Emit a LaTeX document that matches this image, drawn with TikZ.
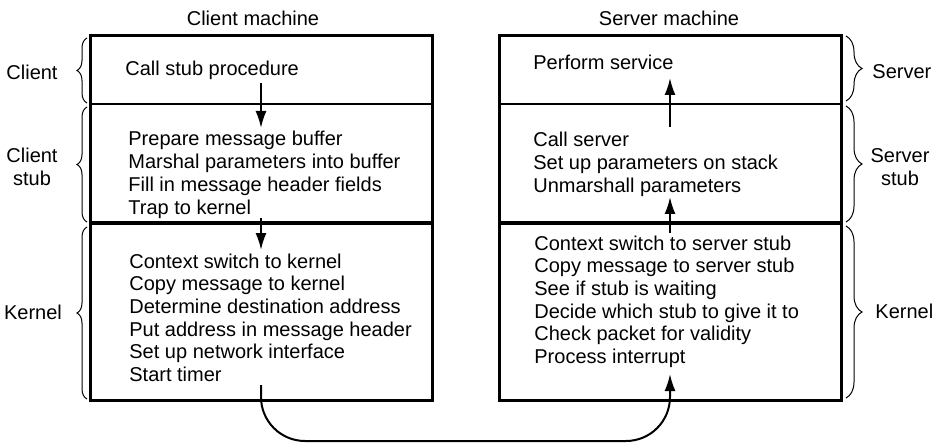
\documentclass[tikz,border=0pt]{standalone}
\usepackage{fontspec}
\setmainfont{Liberation Sans}
\usetikzlibrary{arrows.meta,decorations.pathreplacing}

\begin{document}
\begin{tikzpicture}[inner sep=0mm,x=0.5pt,y=-0.5pt,
    >={Latex[length=8.5pt,width=5.5pt]},
    every node/.style={font=\fontsize{10}{11.4}\selectfont},
    line/.style={anchor=base west},
    side/.style={align=center},
    frame/.style={line width=1.5pt},
    thinsep/.style={line width=0.9pt},
    thicksep/.style={line width=2.2pt},
    call/.style={->,line width=1pt},
    brc/.style={decorate,decoration={brace,amplitude=#1},line width=0.5pt}]
  \useasboundingbox (0,0) rectangle (941,443);
  \xdef\lh{22.7}

  % client machine
  \begin{scope}
    \coordinate (cm_nw) at (90,36);
    \coordinate (cm_se) at (432,400);
    \draw[thinsep] (90,104) -- (432,104);
    \draw[thicksep] (90,223) -- (432,223);
    \draw[frame] (cm_nw) rectangle (cm_se);
    \node (cm_title) at (253,18) {Client machine};

    \node[line] (cl_1) at (125,76) {Call stub procedure};
    \foreach \t [count=\i] in {Prepare message buffer,Marshal parameters into buffer,
        Fill in message header fields,Trap to kernel} {
      \node[line] (cs_\i) at (128,{146+\lh*(\i-1)}) {\t};
    }
    \foreach \t [count=\i] in {Context switch to kernel,Copy message to kernel,
        Determine destination address,Put address in message header,
        Set up network interface,Start timer} {
      \node[line] (ck_\i) at (129,{268+\lh*(\i-1)}) {\t};
    }

    \draw[brc=5pt] (87,103) -- (87,38);
    \draw[brc=5pt] (87,222) -- (87,107);
    \draw[brc=5pt] (87,399) -- (87,227);
    \node[side] (cl_lbl) at (32,72) {Client};
    \node[side] (cs_lbl) at (32,167) {Client\\stub};
    \node[side] (ck_lbl) at (33,312) {Kernel};
  \end{scope}

  % server machine
  \begin{scope}
    \coordinate (sm_nw) at (499,36);
    \coordinate (sm_se) at (841,400);
    \draw[thinsep] (499,104) -- (841,104);
    \draw[thicksep] (499,223) -- (841,223);
    \draw[frame] (sm_nw) rectangle (sm_se);
    \node (sm_title) at (669,18) {Server machine};

    \node[line] (sv_1) at (533,70) {Perform service};
    \foreach \t [count=\i] in {Call server,Set up parameters on stack,
        Unmarshall parameters} {
      \node[line] (ss_\i) at (533,{147+\lh*(\i-1)}) {\t};
    }
    \foreach \t [count=\i] in {Context switch to server stub,Copy message to server stub,
        See if stub is waiting,Decide which stub to give it to,
        Check packet for validity,Process interrupt} {
      \node[line] (sk_\i) at (534,{250+\lh*(\i-1)}) {\t};
    }

    \draw[brc=8pt] (846,36) -- (846,101);
    \draw[brc=8pt] (846,106) -- (846,222);
    \draw[brc=8pt] (846,226) -- (846,398);
    \node[line,anchor=west] (sv_lbl) at (872,72) {Server};
    \node[side] (ss_lbl) at (900,167) {Server\\stub};
    \node[line,anchor=west] (sk_lbl) at (875,311) {Kernel};
  \end{scope}

  % flow of the call
  \coordinate (c_a) at (261,83);
  \coordinate (c_b) at (261,128);
  \coordinate (c_c) at (261,218);
  \coordinate (c_d) at (261,250);
  \coordinate (c_e) at (261,385);
  \coordinate (s_e) at (670,374);
  \coordinate (s_c) at (670,233);
  \coordinate (s_d) at (670,197);
  \coordinate (s_a) at (670,127);
  \coordinate (s_b) at (670,78);
  \coordinate (net) at (465,441);

  \draw[call] (c_a) -- (c_b);
  \draw[call] (c_c) -- (c_d);
  \draw[call,rounded corners=22] (c_e) |- (net) -| (s_e);
  \draw[call] (s_c) -- (s_d);
  \draw[call] (s_a) -- (s_b);
\end{tikzpicture}
\end{document}
